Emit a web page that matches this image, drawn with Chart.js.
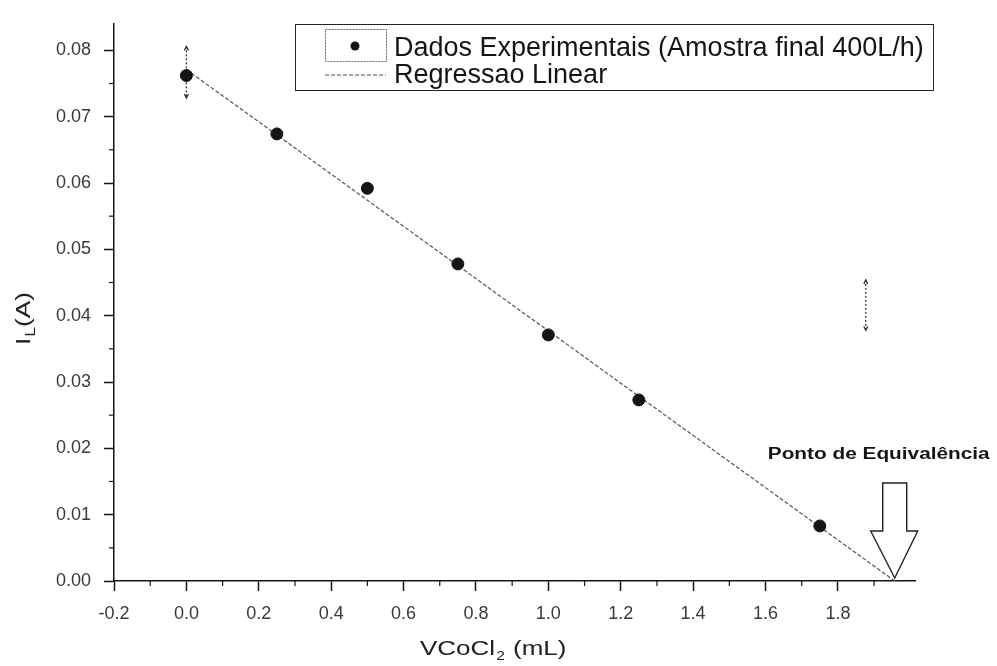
<!DOCTYPE html>
<html>
<head>
<meta charset="utf-8">
<script src="https://cdn.jsdelivr.net/npm/chart.js@4.4.1/dist/chart.umd.min.js"></script>
<style>
  html, body { margin: 0; padding: 0; background: #fff; }
  #wrap { width: 997px; height: 666px; }
</style>
</head>
<body>
<div id="wrap"><canvas id="titrationChart"></canvas></div>
<script>
// CoCl2 volume added (mL) and measured limiting current (A)
const volumes = [0, 0.25, 0.5, 0.75, 1.0, 1.25, 1.75];
const currents = [0.0762, 0.0674, 0.0592, 0.0478, 0.0371, 0.0273, 0.0083];

// linear fit, drawn between these two ends
const fitVolumes = [0, 1.957];
const fitCurrents = [0.0771, 0];

// vertical error bars
const errVolumes = [0, 1.877];
const errLow = [0.0728, 0.0378];
const errHigh = [0.0806, 0.0454];

const xTickValues = [-0.2, 0.0, 0.2, 0.4, 0.6, 0.8, 1.0, 1.2, 1.4, 1.6, 1.8];
const yTickValues = [0.00, 0.01, 0.02, 0.03, 0.04, 0.05, 0.06, 0.07, 0.08];

const seriesNames = ['Dados Experimentais (Amostra final 400L/h)', 'Regressao Linear'];
const equivalenceLabel = 'Ponto de Equivalência';
const equivalenceVolume = 1.957;

const FONT = '"Liberation Sans", Arial, sans-serif';
const INK = '#151515';

function minorTicks(major, max) {
  const out = [];
  for (let i = 0; i < major.length; i++) {
    const next = i + 1 < major.length ? major[i + 1] : major[i] + (major[i] - major[i - 1]);
    const mid = (major[i] + next) / 2;
    if (mid <= max) out.push(mid);
  }
  return out;
}

// text with a horizontal stretch, left aligned at x
function stretchedText(ctx, text, x, y, sx) {
  ctx.save();
  ctx.translate(x, y);
  ctx.scale(sx, 1);
  ctx.fillText(text, 0, 0);
  ctx.restore();
  return ctx.measureText(text).width * sx;
}

const decorations = {
  id: 'decorations',
  beforeDatasetsDraw(chart) {
    const { ctx, scales: { x, y } } = chart;
    // dotted error bars
    ctx.save();
    ctx.strokeStyle = '#333';
    ctx.lineWidth = 1.3;
    errVolumes.forEach((v, i) => {
      const px = x.getPixelForValue(v);
      const top = y.getPixelForValue(errHigh[i]);
      const bot = y.getPixelForValue(errLow[i]);
      ctx.setLineDash([2, 2]);
      ctx.beginPath();
      ctx.moveTo(px, top);
      ctx.lineTo(px, bot);
      ctx.stroke();
      ctx.setLineDash([]);
      ctx.beginPath();
      ctx.moveTo(px - 2, top + 4); ctx.lineTo(px, top); ctx.lineTo(px + 2, top + 4);
      ctx.moveTo(px - 2, bot - 4); ctx.lineTo(px, bot); ctx.lineTo(px + 2, bot - 4);
      ctx.stroke();
    });
    ctx.restore();
  },
  afterDraw(chart) {
    const { ctx, chartArea, scales: { x, y } } = chart;
    ctx.save();

    // minor ticks on both axes
    ctx.strokeStyle = INK;
    ctx.lineWidth = 1.2;
    minorTicks(xTickValues, x.max).forEach(v => {
      const px = x.getPixelForValue(v);
      ctx.beginPath(); ctx.moveTo(px, chartArea.bottom); ctx.lineTo(px, chartArea.bottom + 5); ctx.stroke();
    });
    minorTicks(yTickValues, y.max).forEach(v => {
      const py = y.getPixelForValue(v);
      ctx.beginPath(); ctx.moveTo(chartArea.left, py); ctx.lineTo(chartArea.left - 5, py); ctx.stroke();
    });

    // equivalence arrow, tip on the x intercept of the fit
    const tx = x.getPixelForValue(equivalenceVolume);
    const ty = y.getPixelForValue(0) - 3;
    ctx.strokeStyle = '#222';
    ctx.lineWidth = 1.4;
    ctx.fillStyle = '#fff';
    ctx.beginPath();
    ctx.moveTo(tx, ty);
    ctx.lineTo(tx - 24, ty - 47);
    ctx.lineTo(tx - 12, ty - 47);
    ctx.lineTo(tx - 12, ty - 95);
    ctx.lineTo(tx + 12, ty - 95);
    ctx.lineTo(tx + 12, ty - 47);
    ctx.lineTo(tx + 23, ty - 47);
    ctx.closePath();
    ctx.fill();
    ctx.stroke();

    ctx.fillStyle = INK;
    ctx.font = 'bold 16px ' + FONT;
    ctx.textBaseline = 'alphabetic';
    const lw = ctx.measureText(equivalenceLabel).width * 1.3;
    stretchedText(ctx, equivalenceLabel, tx - 16 - lw / 2, ty - 119, 1.3);

    // legend
    ctx.lineWidth = 1;
    ctx.strokeStyle = '#222';
    ctx.strokeRect(295.5, 24.5, 638, 66);
    ctx.strokeStyle = '#666';
    ctx.setLineDash([2, 1]);
    ctx.strokeRect(325.5, 29.5, 61, 32);
    ctx.setLineDash([]);
    ctx.fillStyle = INK;
    ctx.beginPath(); ctx.arc(355, 46, 4.5, 0, Math.PI * 2); ctx.fill();
    ctx.strokeStyle = '#555';
    ctx.lineWidth = 1.2;
    ctx.setLineDash([4, 2]);
    ctx.beginPath(); ctx.moveTo(325, 75); ctx.lineTo(386, 75); ctx.stroke();
    ctx.setLineDash([]);
    ctx.font = '27px ' + FONT;
    ctx.fillText(seriesNames[0], 394, 56);
    ctx.fillText(seriesNames[1], 394, 83);

    // axis titles
    ctx.font = '20px ' + FONT;
    ctx.fillStyle = '#222';
    let cx = 420;
    cx += stretchedText(ctx, 'VCoCl', cx, 655, 1.3);
    ctx.font = '12px ' + FONT;
    cx += stretchedText(ctx, '2', cx + 1, 660, 1.3) + 2;
    ctx.font = '20px ' + FONT;
    stretchedText(ctx, ' (mL)', cx, 655, 1.3);

    ctx.save();
    ctx.translate(30, 345);
    ctx.rotate(-Math.PI / 2);
    ctx.font = '21px ' + FONT;
    let ry = 0;
    ry += stretchedText(ctx, 'I', ry, 0, 1.25);
    ctx.font = '14px ' + FONT;
    ry += stretchedText(ctx, 'L', ry + 1, 5, 1.25) + 1;
    ctx.font = '21px ' + FONT;
    stretchedText(ctx, '(A)', ry, 0, 1.25);
    ctx.restore();

    ctx.restore();
  }
};

const tickFont = { family: FONT, size: 18 };

new Chart(document.getElementById('titrationChart'), {
  type: 'scatter',
  data: {
    datasets: [
      {
        label: seriesNames[0],
        data: volumes.map((v, i) => ({ x: v, y: currents[i] })),
        pointRadius: 6,
        pointBackgroundColor: INK,
        pointBorderColor: INK,
        order: 1
      },
      {
        label: seriesNames[1],
        type: 'line',
        data: fitVolumes.map((v, i) => ({ x: v, y: fitCurrents[i] })),
        showLine: true,
        pointRadius: 0,
        borderColor: '#555',
        borderWidth: 1.2,
        borderDash: [4, 2],
        order: 2
      }
    ]
  },
  options: {
    responsive: true,
    maintainAspectRatio: false,
    animation: false,
    layout: { padding: { left: 0, top: 17, right: 82, bottom: 0 } },
    plugins: { legend: { display: false }, tooltip: { enabled: false } },
    scales: {
      x: {
        type: 'linear',
        min: -0.2,
        max: 2.013,
        afterBuildTicks: scale => { scale.ticks = xTickValues.map(v => ({ value: v })); },
        afterFit: scale => { scale.height = 85; },
        ticks: {
          color: '#3a3a3a',
          font: tickFont,
          padding: 12,
          maxRotation: 0,
          callback: v => v.toFixed(1)
        },
        grid: { drawOnChartArea: false, drawTicks: true, tickLength: 10, tickWidth: 1.5, tickColor: INK },
        border: { display: true, color: INK, width: 1.5 }
      },
      y: {
        min: 0,
        max: 0.084,
        afterBuildTicks: scale => { scale.ticks = yTickValues.map(v => ({ value: v })); },
        afterFit: scale => { scale.width = 114; },
        ticks: {
          color: '#3a3a3a',
          font: tickFont,
          padding: 13,
          callback: v => v.toFixed(2)
        },
        grid: { drawOnChartArea: false, drawTicks: true, tickLength: 10, tickWidth: 1.5, tickColor: INK },
        border: { display: true, color: INK, width: 1.5 }
      }
    }
  },
  plugins: [decorations]
});
</script>
</body>
</html>
